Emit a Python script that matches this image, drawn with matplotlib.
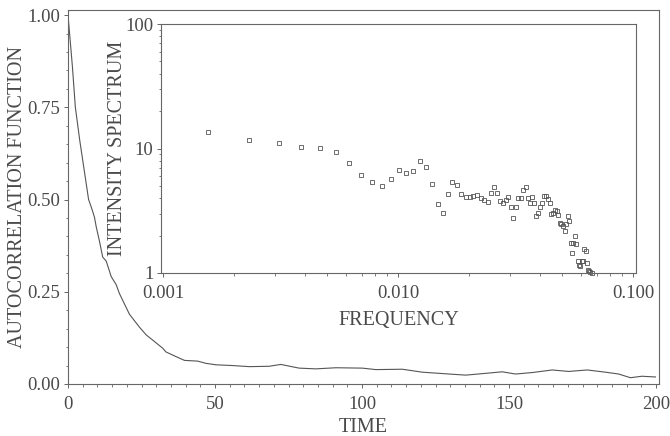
import matplotlib
matplotlib.use("Agg")
import matplotlib.pyplot as plt
from matplotlib.ticker import MultipleLocator, FixedLocator, FixedFormatter, LogLocator, NullFormatter

# autocorrelation curve
time = [0, 1.5, 2.5, 4, 5.5, 7, 7.9, 9.0, 9.6, 10.7, 11.8, 13.0, 14.7, 16.4, 17.5,
        20.9, 24.3, 26.6, 28.8, 32.2, 33.3, 36.8, 39.6, 44.1, 46.9, 50.3, 55.9,
        61.7, 68.4, 72.4, 78.6, 84.3, 91.1, 100.1, 104.7, 113.7, 120.5, 129.6,
        135.3, 140.9, 147.7, 152.2, 157.9, 164.7, 170.3, 176.6, 182.8, 187.3,
        191.3, 195.2, 199.8]
acf = [1.0, 0.86, 0.75, 0.66, 0.58, 0.50, 0.48, 0.452, 0.426, 0.387, 0.344, 0.333,
       0.291, 0.269, 0.245, 0.189, 0.154, 0.133, 0.119, 0.097, 0.087, 0.074, 0.064,
       0.062, 0.056, 0.052, 0.050, 0.047, 0.048, 0.053, 0.043, 0.041, 0.044, 0.043,
       0.039, 0.040, 0.032, 0.027, 0.024, 0.028, 0.033, 0.027, 0.031, 0.038, 0.034,
       0.038, 0.032, 0.027, 0.017, 0.021, 0.019]

# spectrum (inset)
freq = [0.00155, 0.00233, 0.00310, 0.00388, 0.00465, 0.00543, 0.00620, 0.00698,
        0.00775, 0.00853, 0.00930, 0.01008, 0.01085, 0.01163, 0.01240, 0.01318,
        0.01395, 0.01473, 0.01550, 0.01628, 0.01705, 0.01783, 0.01860, 0.01938,
        0.02015, 0.02093, 0.02170, 0.02248, 0.02325, 0.02403, 0.02480, 0.02558,
        0.02635, 0.02713, 0.02790, 0.02868, 0.02945, 0.03023, 0.03100, 0.03178,
        0.03255, 0.03333, 0.03410, 0.03488, 0.03565, 0.03643, 0.03720, 0.03798,
        0.03875, 0.03953, 0.04030, 0.04108, 0.04185, 0.04263, 0.04340, 0.04418,
        0.04495, 0.04573, 0.04650, 0.04728, 0.04805, 0.04883, 0.04960, 0.05038,
        0.05115, 0.05193, 0.05270, 0.05348, 0.05425, 0.05503, 0.05580, 0.05658,
        0.05735, 0.05813, 0.05890, 0.05968, 0.06045, 0.06123, 0.06200, 0.06278,
        0.06355, 0.06433, 0.06510, 0.06588, 0.06665]
intensity = [13.65, 11.70, 11.13, 10.34, 10.04, 9.32, 7.69, 6.12, 5.35, 5.03, 5.69,
             6.78, 6.39, 6.63, 7.89, 7.14, 5.22, 3.60, 3.05, 4.34, 5.41, 5.09, 4.29,
             4.08, 4.08, 4.15, 4.25, 3.98, 3.84, 3.74, 4.42, 4.93, 4.42, 3.81, 3.63,
             3.84, 4.04, 3.37, 2.75, 3.39, 4.03, 4.03, 4.64, 4.93, 4.02, 3.67, 4.09,
             3.67, 2.87, 3.03, 3.39, 3.67, 4.19, 4.12, 3.93, 3.67, 2.95, 3.03, 3.21,
             3.16, 2.90, 2.50, 2.47, 2.40, 2.19, 2.46, 2.87, 2.62, 1.73, 1.44, 1.75,
             1.98, 1.70, 1.24, 1.16, 1.14, 1.24, 1.24, 1.55, 1.50, 1.20, 1.06, 1.04,
             1.01, 1.0]

plt.rcParams['font.family'] = ['Liberation Serif', 'DejaVu Serif']
ink = '#4a4a4a'
edge = '#666666'

fig = plt.figure(figsize=(6.7, 4.36), dpi=100)
ax = fig.add_axes([0.1015, 0.1193, 0.882, 0.858])
ax.plot(time, acf, color='#555555', lw=0.8)
ax.set_xlim(0, 201)
ax.set_ylim(0, 1.014)
ax.xaxis.set_major_locator(MultipleLocator(50))
ax.xaxis.set_minor_locator(MultipleLocator(5))
ax.yaxis.set_major_locator(MultipleLocator(0.25))
ax.yaxis.set_minor_locator(MultipleLocator(0.05))
ax.yaxis.set_major_formatter(plt.FuncFormatter(lambda v, p: f'{v:.2f}'))
ax.set_xlabel('TIME', fontsize=14.5, color=ink, labelpad=3)
ax.set_ylabel('AUTOCORRELATION FUNCTION', fontsize=14.5, color=ink, labelpad=0)

ins = fig.add_axes([0.2403, 0.3739, 0.709, 0.571])
ins.plot(freq, intensity, ls='none', marker='s', ms=3.5, mfc='none',
         mec='#555555', mew=0.6, clip_on=False)
ins.set_xscale('log')
ins.set_yscale('log')
ins.set_xlim(0.00098, 0.103)
ins.set_ylim(1, 100)
ins.xaxis.set_major_locator(FixedLocator([0.001, 0.01, 0.1]))
ins.xaxis.set_major_formatter(FixedFormatter(['0.001', '0.010', '0.100']))
ins.yaxis.set_major_locator(FixedLocator([1, 10, 100]))
ins.yaxis.set_major_formatter(FixedFormatter(['1', '10', '100']))
for a in (ins.xaxis, ins.yaxis):
    a.set_minor_locator(LogLocator(base=10, subs=range(2, 10)))
    a.set_minor_formatter(NullFormatter())
ins.set_xlabel('FREQUENCY', fontsize=14.5, color=ink, labelpad=6)
ins.set_ylabel('INTENSITY SPECTRUM', fontsize=14.5, color=ink, labelpad=-1)

for a in (ax, ins):
    for s in a.spines.values():
        s.set_color(edge)
        s.set_linewidth(0.8)
    a.tick_params(which='major', length=3, width=0.7, color=edge, pad=2.5,
                  labelsize=13.5, labelcolor=ink)
    a.tick_params(which='minor', length=1.8, width=0.6, color=edge)
ax.tick_params(axis='x', which='major', pad=6)
ins.tick_params(axis='x', which='major', pad=6)

fig.savefig('out.png', dpi=100)
